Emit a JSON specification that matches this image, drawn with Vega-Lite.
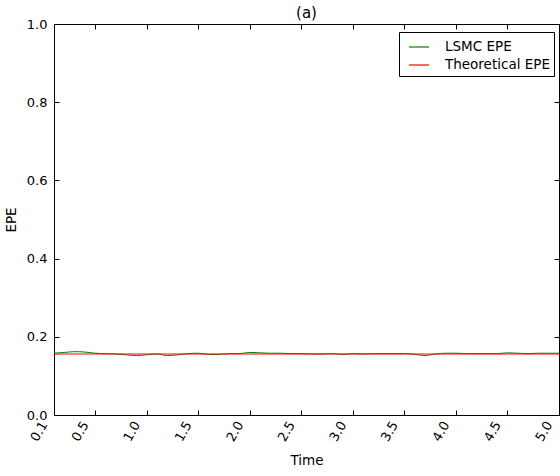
{
  "$schema": "https://vega.github.io/schema/vega-lite/v6.json",
  "width": 505,
  "height": 391,
  "autosize": {"type": "none"},
  "padding": {"left": 54, "top": 24, "right": 1, "bottom": 61},
  "background": "white",
  "title": {"text": "(a)", "fontSize": 15, "font": "DejaVu Sans", "fontWeight": "normal", "color": "#000", "offset": -3},
  "config": {
    "view": {"stroke": "#000", "strokeWidth": 1},
    "font": "DejaVu Sans",
    "axis": {
      "grid": false,
      "domainColor": "#000",
      "tickColor": "#000",
      "labelColor": "#000",
      "titleColor": "#000",
      "labelFont": "DejaVu Sans",
      "titleFont": "DejaVu Sans",
      "labelFontSize": 13,
      "titleFontSize": 13.5,
      "titleFontWeight": "normal",
      "tickSize": -5
    }
  },
  "data": {"values": [
    {"t":0.1,"s":"LSMC EPE","v":0.158},{"t":0.2,"s":"LSMC EPE","v":0.160},{"t":0.3,"s":"LSMC EPE","v":0.162},{"t":0.4,"s":"LSMC EPE","v":0.161},{"t":0.5,"s":"LSMC EPE","v":0.158},
    {"t":0.6,"s":"LSMC EPE","v":0.157},{"t":0.7,"s":"LSMC EPE","v":0.156},{"t":0.8,"s":"LSMC EPE","v":0.154},{"t":0.9,"s":"LSMC EPE","v":0.152},{"t":1.0,"s":"LSMC EPE","v":0.154},
    {"t":1.1,"s":"LSMC EPE","v":0.156},{"t":1.2,"s":"LSMC EPE","v":0.152},{"t":1.3,"s":"LSMC EPE","v":0.154},{"t":1.4,"s":"LSMC EPE","v":0.157},{"t":1.5,"s":"LSMC EPE","v":0.158},
    {"t":1.6,"s":"LSMC EPE","v":0.155},{"t":1.7,"s":"LSMC EPE","v":0.155},{"t":1.8,"s":"LSMC EPE","v":0.157},{"t":1.9,"s":"LSMC EPE","v":0.157},{"t":2.0,"s":"LSMC EPE","v":0.160},
    {"t":2.1,"s":"LSMC EPE","v":0.159},{"t":2.2,"s":"LSMC EPE","v":0.158},{"t":2.3,"s":"LSMC EPE","v":0.158},{"t":2.4,"s":"LSMC EPE","v":0.157},{"t":2.5,"s":"LSMC EPE","v":0.157},
    {"t":2.6,"s":"LSMC EPE","v":0.156},{"t":2.7,"s":"LSMC EPE","v":0.156},{"t":2.8,"s":"LSMC EPE","v":0.157},{"t":2.9,"s":"LSMC EPE","v":0.155},{"t":3.0,"s":"LSMC EPE","v":0.157},
    {"t":3.1,"s":"LSMC EPE","v":0.156},{"t":3.2,"s":"LSMC EPE","v":0.157},{"t":3.3,"s":"LSMC EPE","v":0.157},{"t":3.4,"s":"LSMC EPE","v":0.157},{"t":3.5,"s":"LSMC EPE","v":0.157},
    {"t":3.6,"s":"LSMC EPE","v":0.155},{"t":3.7,"s":"LSMC EPE","v":0.152},{"t":3.8,"s":"LSMC EPE","v":0.156},{"t":3.9,"s":"LSMC EPE","v":0.158},{"t":4.0,"s":"LSMC EPE","v":0.158},
    {"t":4.1,"s":"LSMC EPE","v":0.157},{"t":4.2,"s":"LSMC EPE","v":0.157},{"t":4.3,"s":"LSMC EPE","v":0.157},{"t":4.4,"s":"LSMC EPE","v":0.157},{"t":4.5,"s":"LSMC EPE","v":0.159},
    {"t":4.6,"s":"LSMC EPE","v":0.158},{"t":4.7,"s":"LSMC EPE","v":0.157},{"t":4.8,"s":"LSMC EPE","v":0.158},{"t":4.9,"s":"LSMC EPE","v":0.158},{"t":5.0,"s":"LSMC EPE","v":0.158},
    {"t":0.1,"s":"Theoretical EPE","v":0.156},{"t":0.2,"s":"Theoretical EPE","v":0.156},{"t":0.3,"s":"Theoretical EPE","v":0.156},{"t":0.4,"s":"Theoretical EPE","v":0.156},{"t":0.5,"s":"Theoretical EPE","v":0.156},
    {"t":0.6,"s":"Theoretical EPE","v":0.156},{"t":0.7,"s":"Theoretical EPE","v":0.156},{"t":0.8,"s":"Theoretical EPE","v":0.156},{"t":0.9,"s":"Theoretical EPE","v":0.156},{"t":1.0,"s":"Theoretical EPE","v":0.156},
    {"t":1.1,"s":"Theoretical EPE","v":0.156},{"t":1.2,"s":"Theoretical EPE","v":0.156},{"t":1.3,"s":"Theoretical EPE","v":0.156},{"t":1.4,"s":"Theoretical EPE","v":0.156},{"t":1.5,"s":"Theoretical EPE","v":0.156},
    {"t":1.6,"s":"Theoretical EPE","v":0.156},{"t":1.7,"s":"Theoretical EPE","v":0.156},{"t":1.8,"s":"Theoretical EPE","v":0.156},{"t":1.9,"s":"Theoretical EPE","v":0.156},{"t":2.0,"s":"Theoretical EPE","v":0.156},
    {"t":2.1,"s":"Theoretical EPE","v":0.156},{"t":2.2,"s":"Theoretical EPE","v":0.156},{"t":2.3,"s":"Theoretical EPE","v":0.156},{"t":2.4,"s":"Theoretical EPE","v":0.156},{"t":2.5,"s":"Theoretical EPE","v":0.156},
    {"t":2.6,"s":"Theoretical EPE","v":0.156},{"t":2.7,"s":"Theoretical EPE","v":0.156},{"t":2.8,"s":"Theoretical EPE","v":0.156},{"t":2.9,"s":"Theoretical EPE","v":0.156},{"t":3.0,"s":"Theoretical EPE","v":0.156},
    {"t":3.1,"s":"Theoretical EPE","v":0.156},{"t":3.2,"s":"Theoretical EPE","v":0.156},{"t":3.3,"s":"Theoretical EPE","v":0.156},{"t":3.4,"s":"Theoretical EPE","v":0.156},{"t":3.5,"s":"Theoretical EPE","v":0.156},
    {"t":3.6,"s":"Theoretical EPE","v":0.156},{"t":3.7,"s":"Theoretical EPE","v":0.156},{"t":3.8,"s":"Theoretical EPE","v":0.156},{"t":3.9,"s":"Theoretical EPE","v":0.156},{"t":4.0,"s":"Theoretical EPE","v":0.156},
    {"t":4.1,"s":"Theoretical EPE","v":0.156},{"t":4.2,"s":"Theoretical EPE","v":0.156},{"t":4.3,"s":"Theoretical EPE","v":0.156},{"t":4.4,"s":"Theoretical EPE","v":0.156},{"t":4.5,"s":"Theoretical EPE","v":0.156},
    {"t":4.6,"s":"Theoretical EPE","v":0.156},{"t":4.7,"s":"Theoretical EPE","v":0.156},{"t":4.8,"s":"Theoretical EPE","v":0.156},{"t":4.9,"s":"Theoretical EPE","v":0.156},{"t":5.0,"s":"Theoretical EPE","v":0.156}
  ]},
  "layer": [
    {
      "mark": {"type": "line", "opacity": 0},
      "encoding": {
        "x": {"field": "t", "type": "quantitative", "scale": {"domain": [0.1, 5.0], "nice": false, "zero": false},
              "axis": {"orient": "top", "labels": false, "title": null, "domain": false, "values": [0.1,0.5,1.0,1.5,2.0,2.5,3.0,3.5,4.0,4.5,5.0]}},
        "y": {"field": "v", "type": "quantitative", "scale": {"domain": [0, 1], "nice": false},
              "axis": {"orient": "right", "labels": false, "title": null, "domain": false, "values": [0,0.2,0.4,0.6,0.8,1.0]}},
        "detail": {"field": "s"}
      }
    },
    {
      "mark": {"type": "line", "strokeWidth": 1, "interpolate": "monotone"},
      "encoding": {
        "x": {"field": "t", "type": "quantitative", "scale": {"domain": [0.1, 5.0], "nice": false, "zero": false},
              "axis": {"orient": "bottom", "title": "Time", "titlePadding": 10, "labelAngle": -60, "labelPadding": 12, "labelOffset": -10, "format": ".1f", "domain": false, "values": [0.1,0.5,1.0,1.5,2.0,2.5,3.0,3.5,4.0,4.5,5.0], "labelFlush": false, "labelOverlap": false}},
        "y": {"field": "v", "type": "quantitative", "scale": {"domain": [0, 1], "nice": false},
              "axis": {"orient": "left", "title": "EPE", "format": ".1f", "domain": false, "values": [0,0.2,0.4,0.6,0.8,1.0], "labelPadding": 12, "titlePadding": 8, "labelFlush": false}},
        "color": {"field": "s", "type": "nominal", "sort": ["LSMC EPE", "Theoretical EPE"],
                  "scale": {"domain": ["LSMC EPE", "Theoretical EPE"], "range": ["#008000", "#ff0000"]},
                  "legend": {"title": null, "orient": "none", "legendX": 345, "legendY": 8, "symbolType": "stroke", "symbolSize": 400, "symbolStrokeWidth": 1.2, "symbolOffset": 5, "labelFontSize": 13.5, "labelFont": "DejaVu Sans", "labelColor": "#000", "strokeColor": "#000", "fillColor": "#fff", "padding": 4, "rowPadding": -1, "labelOffset": 15, "offset": 0,
                             "encode": {"symbols": {"update": {"stroke": {"scale": "color", "field": "value"}, "opacity": {"value": 1}, "strokeOpacity": {"value": 1}}}}}}
      }
    }
  ],
  "resolve": {"axis": {"x": "independent", "y": "independent"}}
}
